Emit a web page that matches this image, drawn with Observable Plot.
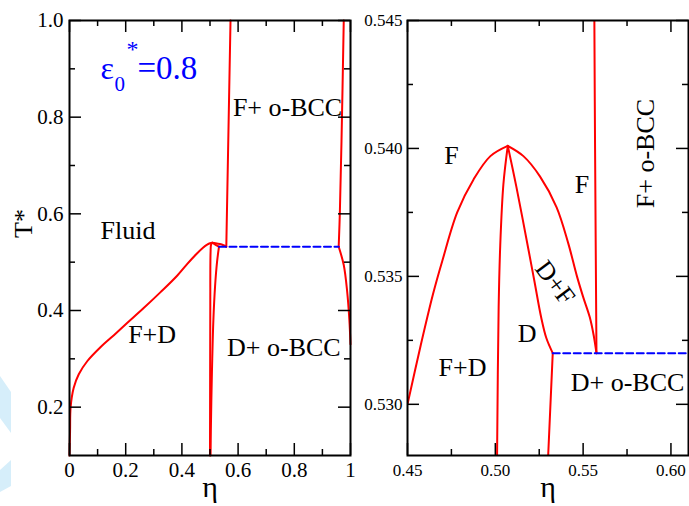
<!DOCTYPE html>
<html><head><meta charset="utf-8">
<script src="https://cdn.jsdelivr.net/npm/d3@7"></script>
<script src="https://cdn.jsdelivr.net/npm/@observablehq/plot@0.6"></script>
<style>
html,body{margin:0;padding:0;background:#fff;}
#wrap{position:relative;width:689px;height:506px;overflow:hidden;font-family:"Liberation Serif","Times New Roman",serif;}
#wm{position:absolute;left:0;top:0;}
#left{position:absolute;left:0;top:0;}
#right{position:absolute;left:350px;top:0;}
</style></head><body>
<div id="wrap">
<svg id="wm" width="40" height="506"><polygon points="0,376 11,392 11,433 0,418" fill="#d6eefa"/><polygon points="0,470 11,460 11,486 0,492" fill="#d6eefa"/></svg>
<div id="left"></div><div id="right"></div>
</div>
<script>
// ---------- Left panel data: [eta, T] ----------
const L_fluid_FD = [[0,0.1],[0.002,0.15],[0.004,0.2],[0.015,0.24],[0.033,0.268],[0.063,0.295],[0.11,0.324],[0.158,0.349],[0.205,0.374],[0.264,0.405],[0.324,0.438],[0.383,0.472],[0.42,0.497],[0.45,0.516],[0.475,0.530],[0.49,0.5365],[0.5,0.5393],[0.508,0.540]];
const L_dome_right = [[0.508,0.540],[0.52,0.5392],[0.535,0.5375],[0.548,0.535],[0.558,0.532]];
const L_D_FD = [[0.508,0.540],[0.504,0.537],[0.502,0.52],[0.501,0.4],[0.5,0.1]];
const L_D_DF = [[0.508,0.540],[0.52,0.536],[0.532,0.532]];
const L_D_DBCC = [[0.532,0.532],[0.525,0.5],[0.518,0.45],[0.512,0.38],[0.508,0.3],[0.505,0.22],[0.503,0.15],[0.502,0.1]];
const L_F_FBCC = [[0.558,0.532],[0.573,1.0]];
const L_BCC_upper = [[0.958,0.532],[0.962,0.6],[0.968,0.75],[0.976,1.0]];
const L_BCC_lower = [[0.958,0.532],[0.976,0.494],[0.988,0.44],[0.996,0.38],[1.0,0.33]];
const L_triple = [[0.532,0.532],[0.958,0.532]];

// ---------- Right panel data: [eta, T] ----------
const R_outer_left = [[0.45,0.530],[0.4575,0.5323],[0.4645,0.5343],[0.4698,0.5356],[0.4783,0.5375],[0.4877,0.5388],[0.4972,0.5397],[0.5071,0.5401]];
const R_outer_right = [[0.5071,0.5401],[0.516,0.5397],[0.5255,0.5389],[0.5349,0.5377],[0.5415,0.5363],[0.5465,0.5350],[0.55,0.5342],[0.5538,0.5334],[0.556,0.5327],[0.5576,0.5320]];
const R_inner_left = [[0.5071,0.5401],[0.5046,0.5386],[0.5028,0.5362],[0.5019,0.5338],[0.501,0.528]];
const R_inner_right = [[0.5071,0.5401],[0.512,0.5385],[0.519,0.5360],[0.5223,0.5348],[0.5261,0.5334],[0.529,0.5326],[0.5327,0.5320]];
const R_D_DBCC = [[0.5327,0.5320],[0.5301,0.528]];
const R_F_FBCC = [[0.5564,0.545],[0.5568,0.540],[0.5576,0.532]];
const R_triple = [[0.5327,0.532],[0.61,0.532]];

// ---------- Ticks ----------
const L_xMajor = [0,0.2,0.4,0.6,0.8,1];
const L_xMinor = [0.1,0.3,0.5,0.7,0.9];
const L_yMajor = [0.2,0.4,0.6,0.8,1.0];
const L_yMinor = [0.3,0.5,0.7,0.9];
const R_xMajor = [0.45,0.50,0.55,0.60];
const R_xMinor = [0.475,0.525,0.575];
const R_yMajor = [0.530,0.535,0.540,0.545];
const R_yMinor = [0.5325,0.5375,0.5425];

// ---------- Annotations ----------
const L_labels = [
  {x:0.776,y:0.82,t:"F+ o-BCC"},
  {x:0.208,y:0.565,t:"Fluid"},
  {x:0.294,y:0.350,t:"F+D"},
  {x:0.763,y:0.323,t:"D+ o-BCC"}
];
const R_labels = [
  {x:0.4751,y:0.5397,t:"F",r:0},
  {x:0.5493,y:0.5386,t:"F",r:0},
  {x:0.5855,y:0.5398,t:"F+ o-BCC",r:-90},
  {x:0.534,y:0.53475,t:"D+F",r:53},
  {x:0.5181,y:0.53276,t:"D",r:0},
  {x:0.4813,y:0.53143,t:"F+D",r:0},
  {x:0.5753,y:0.53085,t:"D+ o-BCC",r:0}
];

const FONT = "Liberation Serif, Times New Roman, serif";
const IW = 281, IH = 435;
const RED = "#ff0000", BLUE = "#0000ff";

function curve(d, clip) {
  return Plot.line(d, {x: p => p[0], y: p => p[1], stroke: RED, strokeWidth: 2, curve: "catmull-rom", clip});
}
function tickMarks(xMaj, xMin, yMaj, yMin) {
  const M = 12, m = 6, sw = 1.5;
  return [
    Plot.tickX(xMaj, {insetTop: IH - M, strokeWidth: sw}),
    Plot.tickX(xMaj, {insetBottom: IH - M, strokeWidth: sw}),
    Plot.tickX(xMin, {insetTop: IH - m, strokeWidth: sw}),
    Plot.tickX(xMin, {insetBottom: IH - m, strokeWidth: sw}),
    Plot.tickY(yMaj, {insetRight: IW - M, strokeWidth: sw}),
    Plot.tickY(yMaj, {insetLeft: IW - M, strokeWidth: sw}),
    Plot.tickY(yMin, {insetRight: IW - m, strokeWidth: sw}),
    Plot.tickY(yMin, {insetLeft: IW - m, strokeWidth: sw})
  ];
}

const left = Plot.plot({
  width: 360, height: 506,
  marginLeft: 69, marginRight: 10, marginTop: 20, marginBottom: 51,
  x: {domain: [0, 1]},
  y: {domain: [0.1, 1.0]},
  style: {fontFamily: FONT, background: "transparent", overflow: "visible", color: "black"},
  marks: [
    curve(L_fluid_FD), curve(L_dome_right), curve(L_D_FD), curve(L_D_DF),
    curve(L_D_DBCC), curve(L_F_FBCC), curve(L_BCC_upper), curve(L_BCC_lower),
    Plot.line(L_triple, {x: p => p[0], y: p => p[1], stroke: BLUE, strokeWidth: 2, strokeDasharray: "7,3.5"}),
    ...tickMarks(L_xMajor, L_xMinor, L_yMajor, L_yMinor),
    Plot.frame({stroke: "black", strokeWidth: 2}),
    Plot.axisX(L_xMajor, {tickSize: 0, tickPadding: 7, fontSize: 21, fontFamily: FONT, label: null,
      tickFormat: d => (d === 0 || d === 1) ? String(d) : d.toFixed(1)}),
    Plot.axisY(L_yMajor, {tickSize: 0, tickPadding: 6, fontSize: 21, fontFamily: FONT, label: null,
      tickFormat: d => d.toFixed(1)}),
    Plot.text(L_labels, {x: "x", y: "y", text: "t", fontSize: 26, fontFamily: FONT, fill: "black"}),
    Plot.text(["η"], {frameAnchor: "bottom", dy: 41, lineAnchor: "bottom", fontSize: 30, fontFamily: FONT}),
    Plot.text(["T*"], {frameAnchor: "left", dx: -46, rotate: -90, fontSize: 26, fontFamily: FONT}),
    // epsilon_0^* = 0.8
    Plot.text(["ε"], {x: () => 0.110, y: () => 0.88, textAnchor: "start", lineAnchor: "bottom", fontSize: 32, fill: BLUE, fontFamily: FONT}),
    Plot.text(["0"], {x: () => 0.110, y: () => 0.88, dx: 14, dy: 12, textAnchor: "start", lineAnchor: "bottom", fontSize: 21, fill: BLUE, fontFamily: FONT}),
    Plot.text(["*"], {x: () => 0.110, y: () => 0.88, dx: 26, dy: -22, textAnchor: "start", lineAnchor: "bottom", fontSize: 24, fill: BLUE, fontFamily: FONT}),
    Plot.text(["=0.8"], {x: () => 0.110, y: () => 0.88, dx: 37, textAnchor: "start", lineAnchor: "bottom", fontSize: 33, fill: BLUE, fontFamily: FONT})
  ]
});
document.getElementById("left").appendChild(left);

const right = Plot.plot({
  width: 339, height: 506,
  marginLeft: 57, marginRight: 1, marginTop: 20, marginBottom: 51,
  x: {domain: [0.45, 0.61]},
  y: {domain: [0.528, 0.545]},
  style: {fontFamily: FONT, background: "transparent", overflow: "visible", color: "black"},
  marks: [
    curve(R_outer_left, true), curve(R_outer_right, true), curve(R_inner_left, true),
    curve(R_inner_right, true), curve(R_D_DBCC, true), curve(R_F_FBCC, true),
    Plot.line(R_triple, {x: p => p[0], y: p => p[1], stroke: BLUE, strokeWidth: 2, strokeDasharray: "7,3.5", clip: true}),
    ...tickMarks(R_xMajor, R_xMinor, R_yMajor, R_yMinor),
    Plot.frame({stroke: "black", strokeWidth: 2}),
    Plot.axisX(R_xMajor, {tickSize: 0, tickPadding: 8, fontSize: 17, fontFamily: FONT, label: null,
      tickFormat: d => d.toFixed(2)}),
    Plot.axisY(R_yMajor, {tickSize: 0, tickPadding: 5, fontSize: 17, fontFamily: FONT, label: null,
      tickFormat: d => d.toFixed(3)}),
    Plot.text(R_labels, {x: "x", y: "y", text: "t", rotate: "r", fontSize: 26, fontFamily: FONT, fill: "black"}),
    Plot.text(["η"], {frameAnchor: "bottom", dy: 41, lineAnchor: "bottom", fontSize: 30, fontFamily: FONT})
  ]
});
document.getElementById("right").appendChild(right);
</script>
</body></html>
